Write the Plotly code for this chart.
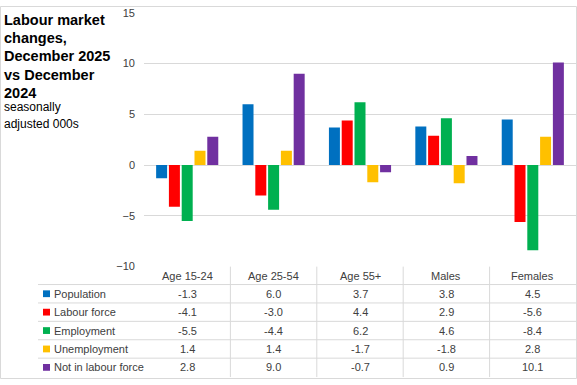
import plotly.graph_objects as go

categories = ["Age 15-24", "Age 25-54", "Age 55+", "Males", "Females"]
series_names = ["Population", "Labour force", "Employment", "Unemployment", "Not in labour force"]
population = [-1.3, 6.0, 3.7, 3.8, 4.5]
labour_force = [-4.1, -3.0, 4.4, 2.9, -5.6]
employment = [-5.5, -4.4, 6.2, 4.6, -8.4]
unemployment = [1.4, 1.4, -1.7, -1.8, 2.8]
not_in_lf = [2.8, 9.0, -0.7, 0.9, 10.1]
series_values = [population, labour_force, employment, unemployment, not_in_lf]
colors = ["#0070C0", "#FF0000", "#00B050", "#FFC000", "#7030A0"]
y_ticks = [-10, -5, 0, 5, 10, 15]
title_lines = ["Labour market", "changes,", "December 2025", "vs December", "2024"]
subtitle_lines = ["seasonally", "adjusted 000s"]

W, H = 577, 385
FONT = "Liberation Sans, Arial, sans-serif"
TXT = "#404040"
GRID = "#D9D9D9"


def px(x):
    return x / W


def py(y):
    return 1 - y / H


fig = go.Figure()
for name, vals, col in zip(series_names, series_values, colors):
    fig.add_trace(go.Bar(x=categories, y=vals, name=name, marker_color=col,
                         marker_line_width=0, showlegend=False, hoverinfo="skip"))

annotations = []
shapes = []

# Title and subtitle
for i, t in enumerate(title_lines):
    annotations.append(dict(text=t, x=px(2), y=py(14 + 19 * i), xref="paper", yref="paper",
                            xanchor="left", yanchor="middle", showarrow=False,
                            font=dict(family=FONT, size=14.5, color="#000000", weight="bold")))
for i, t in enumerate(subtitle_lines):
    annotations.append(dict(text=t, x=px(2), y=py(104 + 18 * i), xref="paper", yref="paper",
                            xanchor="left", yanchor="middle", showarrow=False,
                            font=dict(family=FONT, size=12, color="#000000")))

# Table header
for c in categories:
    annotations.append(dict(text=c, x=c, xref="x", y=py(279), yref="paper", showarrow=False,
                            xanchor="center", yanchor="middle",
                            font=dict(family=FONT, size=11, color=TXT)))

row_h = 19
for i, (name, vals, col) in enumerate(zip(series_names, series_values, colors)):
    yc = 297 + row_h * i
    shapes.append(dict(type="rect", xref="paper", yref="paper",
                       x0=px(43), x1=px(50), y0=py(yc - 3.5), y1=py(yc + 3.5),
                       fillcolor=col, line=dict(width=0)))
    annotations.append(dict(text=name, x=px(52), y=py(yc), xref="paper", yref="paper",
                            xanchor="left", yanchor="middle", showarrow=False,
                            font=dict(family=FONT, size=11, color=TXT)))
    for c, v in zip(categories, vals):
        annotations.append(dict(text=f"{v:.1f}", x=c, xref="x", y=py(yc), yref="paper",
                                xanchor="center", yanchor="middle", showarrow=False,
                                font=dict(family=FONT, size=11, color=TXT)))

# Table horizontal lines
for i in range(5):
    yl = 287.5 + row_h * i
    shapes.append(dict(type="line", xref="paper", yref="paper", x0=px(38), x1=px(576),
                       y0=py(yl), y1=py(yl), line=dict(color=GRID, width=1)))
# Table vertical lines
for k in range(len(categories) - 1):
    shapes.append(dict(type="line", xref="x", yref="paper", x0=k + 0.5, x1=k + 0.5,
                       y0=py(269), y1=py(383), line=dict(color=GRID, width=1)))
# Outer border
shapes.append(dict(type="rect", xref="paper", yref="paper", x0=px(0.5), x1=px(576.5),
                   y0=py(384.5), y1=py(0.5), line=dict(color=GRID, width=1)))

fig.update_layout(
    width=W, height=H,
    margin=dict(l=0, r=0, t=0, b=0),
    paper_bgcolor="white", plot_bgcolor="white",
    barmode="group", bargap=0.26, bargroupgap=0.14,
    xaxis=dict(domain=[px(144), px(576)], range=[-0.5, 4.5], showticklabels=False,
               showgrid=False, zeroline=False, showline=False, ticks=""),
    yaxis=dict(domain=[py(269), py(7)], range=[-10, 15], tickvals=y_ticks,
               showgrid=True, gridcolor=GRID, gridwidth=1, zeroline=False, showline=False,
               ticks="", ticklabelstandoff=8,
               tickfont=dict(family=FONT, size=11, color=TXT)),
    annotations=annotations, shapes=shapes,
    hovermode=False,
)

fig.write_html("out.html",
               config={"displayModeBar": False},
               post_script="document.body.style.margin='0';document.body.style.padding='0';"
                           "document.body.style.overflow='hidden';")
